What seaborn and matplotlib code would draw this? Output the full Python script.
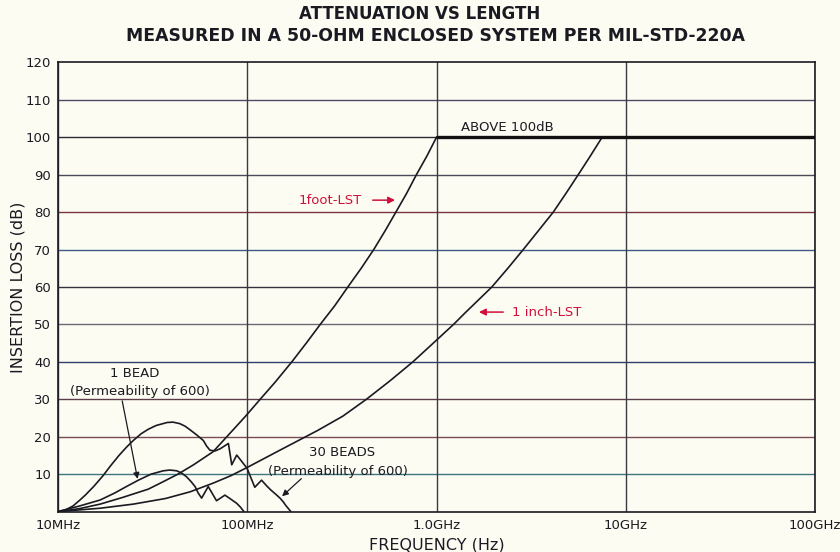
import pandas as pd
import matplotlib
matplotlib.use("Agg")
import matplotlib.pyplot as plt
import seaborn as sns

# frequencies in MHz, insertion loss in dB
FOOT_FREQ = [10, 13, 16.7, 22, 30, 36, 43, 52, 66, 78, 98, 117, 140, 172, 205, 243,
             290, 340, 400, 466, 535, 610, 695, 783, 890, 1000]
FOOT_DB = [0, 0.8, 2, 3.8, 6, 8, 10, 12.5, 16, 20, 25.5, 30, 34.5, 40, 45, 50,
           55, 60, 65, 70, 75, 80, 85, 90, 95, 100]

INCH_FREQ = [10, 16.7, 25, 37, 50, 66, 82, 100, 150, 236, 320, 426, 570, 750, 1000,
             1230, 1430, 1550, 1960, 2382, 2873, 3450, 4140, 4830, 5610, 6500, 7500]
INCH_DB = [0, 0.9, 2, 3.5, 5.3, 7.6, 9.6, 11.8, 16.5, 21.7, 25.5, 30, 35, 40, 45.8,
           50, 53.3, 55, 60, 65, 70, 75, 80, 85, 90, 95, 100]

ABOVE_FREQ = [1000, 100000]
ABOVE_DB = [100, 100]

BEAD1_FREQ = [10, 13, 16.7, 20, 23, 26.6, 31, 36, 39, 42.4, 45, 47.8, 50.5, 53, 55,
              57.4, 62.2, 68.8, 76.2, 82, 88, 92, 96]
BEAD1_DB = [0, 1.5, 3.1, 5, 6.7, 8.4, 10, 10.9, 11.1, 10.9, 10.3, 9.3, 8, 6.7, 5,
            3.6, 6.7, 2.9, 4.4, 3.3, 2.2, 1.2, 0]

BEAD30_FREQ = [10, 11, 12, 13, 14, 15.5, 17.3, 19, 21, 23, 25, 27.5, 30, 33, 37.7,
               40.5, 44, 47, 50, 54, 58.6, 61, 63.5, 67.6, 72, 79.5, 82.8, 88, 99.7,
               109.6, 119, 126, 133, 141, 149, 155, 160, 165, 170]
BEAD30_DB = [0, 0.5, 1.5, 3, 4.5, 6.8, 9.6, 12.3, 15, 17.2, 19, 20.8, 22, 23, 23.8,
             23.9, 23.5, 22.8, 21.8, 20.5, 19, 17.5, 16.4, 16.2, 16.8, 18.2, 12.5, 15.1, 11.6,
             6.5, 8.4, 7, 5.8, 4.7, 3.6, 2.6, 1.6, 0.8, 0]

X_TICKS = [10, 100, 1000, 10000, 100000]
X_LABELS = ["10MHz", "100MHz", "1.0GHz", "10GHz", "100GHz"]
Y_TICKS = list(range(0, 130, 10))
Y_LABELS = [""] + [str(v) for v in Y_TICKS[1:]]

BG = "#fdfcf2"
INK = "#1a1a22"
RED = "#d0103a"
GRID_COLORS = {
    10: "#3f7480", 20: "#7a4a58", 30: "#5a3d4a", 40: "#2f3f6e", 50: "#6a6a76",
    60: "#33333f", 70: "#3e5a88", 80: "#7a3444", 90: "#4a4a5a", 100: "#2a2a35",
    110: "#4e4a66",
}

frames = []
for name, f, d in [
    ("1 foot-LST", FOOT_FREQ, FOOT_DB),
    ("1 inch-LST", INCH_FREQ, INCH_DB),
    ("above", ABOVE_FREQ, ABOVE_DB),
    ("1 bead", BEAD1_FREQ, BEAD1_DB),
    ("30 beads", BEAD30_FREQ, BEAD30_DB),
]:
    frames.append(pd.DataFrame({"curve": name, "freq": f, "loss": d}))
df = pd.concat(frames, ignore_index=True)

sns.set_style("white")
plt.rcParams["font.family"] = ["DejaVu Sans"]

fig = plt.figure(figsize=(8.4, 5.52), dpi=100, facecolor=BG)
ax = fig.add_axes([58 / 840, 1 - 511.6 / 552, (815 - 58) / 840, (511.6 - 62.4) / 552])
ax.set_facecolor(BG)
ax.set_xscale("log")

# grid
for y, c in GRID_COLORS.items():
    ax.axhline(y, color=c, lw=1.0, zorder=1)
for x in X_TICKS:
    ax.axvline(x, color="#3a3a44", lw=1.0, zorder=1)

for name in ["1 foot-LST", "1 inch-LST", "1 bead", "30 beads"]:
    sns.lineplot(data=df[df["curve"] == name], x="freq", y="loss", sort=False,
                 estimator=None, color=INK, lw=1.2, ax=ax, zorder=3)
sns.lineplot(data=df[df["curve"] == "above"], x="freq", y="loss", sort=False,
             estimator=None, color="#111111", lw=2.4, ax=ax, zorder=3)

ax.set_xlim(10, 100000)
ax.set_ylim(0, 120)
ax.set_xticks(X_TICKS)
ax.set_xticklabels(X_LABELS)
ax.minorticks_off()
ax.set_yticks(Y_TICKS)
ax.set_yticklabels(Y_LABELS)
ax.tick_params(length=0, labelsize=9.5, colors=INK, pad=5)
for s in ax.spines.values():
    s.set_color(INK)
    s.set_linewidth(1.2)

ax.set_xlabel("FREQUENCY (Hz)", fontsize=11.5, color=INK, labelpad=4)
ax.set_ylabel("INSERTION LOSS (dB)", fontsize=11.5, color=INK)
ax.yaxis.set_label_coords(-0.043, 0.5)

fig.text(0.499, 0.975, "ATTENUATION VS LENGTH", ha="center", va="center",
         fontsize=12, fontweight="semibold", color=INK)
fig.text(0.518, 0.935, "MEASURED IN A 50-OHM ENCLOSED SYSTEM PER MIL-STD-220A",
         ha="center", va="center", fontsize=12.4, fontweight="semibold", color=INK)

# annotations
ax.text(2360, 102.5, "ABOVE 100dB", ha="center", va="center", fontsize=9.5, color=INK)

ax.text(274, 83.2, "1foot-LST", ha="center", va="center", fontsize=9.5, color=RED)
ax.annotate("", xy=(625, 83.2), xytext=(445, 83.2),
            arrowprops=dict(arrowstyle="-|>", color=RED, lw=1.1, mutation_scale=10))

ax.text(3830, 53.3, "1 inch-LST", ha="center", va="center", fontsize=9.5, color=RED)
ax.annotate("", xy=(1620, 53.3), xytext=(2330, 53.3),
            arrowprops=dict(arrowstyle="-|>", color=RED, lw=1.1, mutation_scale=10))

ax.text(25.5, 37, "1 BEAD", ha="center", va="center", fontsize=9.5, color=INK)
ax.text(27.1, 32.2, "(Permeability of 600)", ha="center", va="center", fontsize=9.5, color=INK)
ax.annotate("", xy=(26.5, 8.0), xytext=(21.7, 30.3),
            arrowprops=dict(arrowstyle="-|>", color=INK, lw=0.9, mutation_scale=9))

ax.text(316, 15.7, "30 BEADS", ha="center", va="center", fontsize=9.5, color=INK)
ax.text(302, 10.6, "(Permeability of 600)", ha="center", va="center", fontsize=9.5, color=INK)
ax.annotate("", xy=(149, 3.6), xytext=(198, 9.3),
            arrowprops=dict(arrowstyle="-|>", color=INK, lw=0.9, mutation_scale=9))

fig.savefig("out.png", dpi=100, facecolor=BG)
